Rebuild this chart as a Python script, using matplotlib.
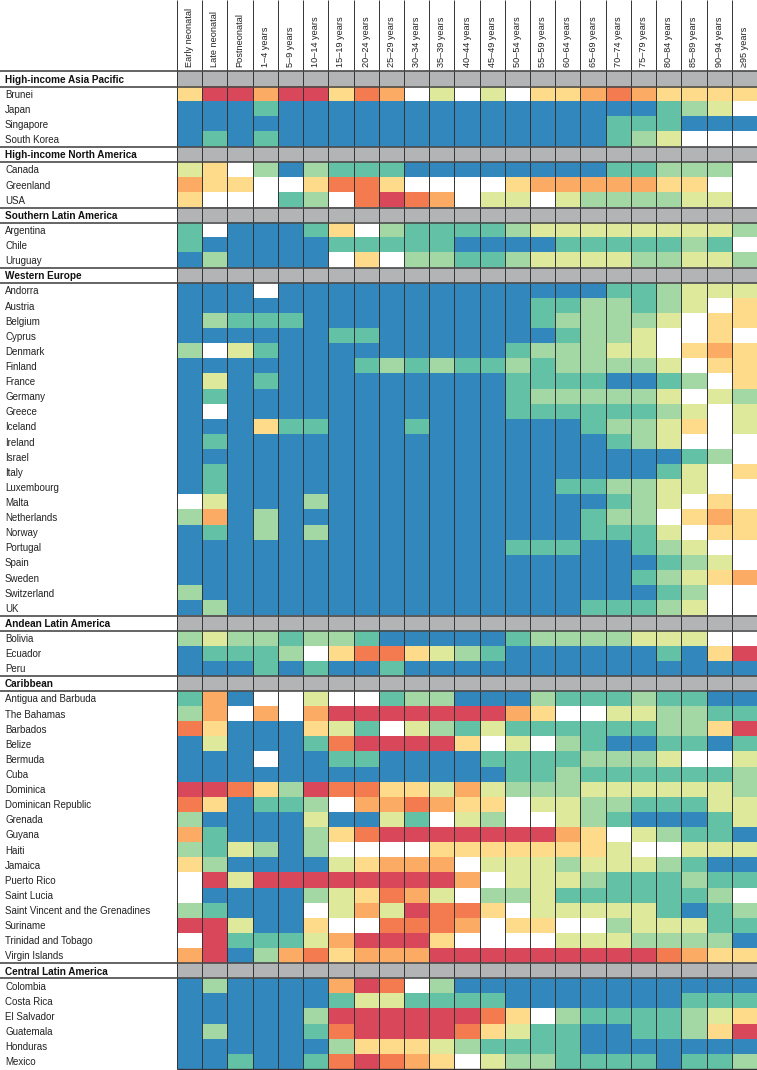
import numpy as np
import matplotlib
matplotlib.use("Agg")
import matplotlib.pyplot as plt
from matplotlib.colors import ListedColormap

plt.rcParams['font.family'] = ['Liberation Sans Narrow', 'Liberation Sans', 'DejaVu Sans']

# age groups (columns)
age_groups = ["Early neonatal", "Late neonatal", "Postneonatal", "1–4 years", "5–9 years",
              "10–14 years", "15–19 years", "20–24 years", "25–29 years", "30–34 years",
              "35–39 years", "40–44 years", "45–49 years", "50–54 years", "55–59 years",
              "60–64 years", "65–69 years", "70–74 years", "75–79 years", "80–84 years",
              "85–89 years", "90–94 years", "≥95 years"]

# colour level of each cell, one digit per age group
# 0 blue, 1 teal, 2 light green, 3 yellow-green, 4 white, 5 light yellow, 6 orange, 7 red-orange, 8 dark red
asia_pacific_names = ["Brunei", "Japan", "Singapore", "South Korea"]
asia_pacific_levels = ["58868857643434556765555",
                       "00010000000000000001234",
                       "00000000000000000111000",
                       "01010000000000000123444"]

north_america_names = ["Canada", "Greenland", "USA"]
north_america_levels = ["35420211100000000112224",
                        "65544577544445666665544",
                        "54441247876433432222334"]

southern_latam_names = ["Argentina", "Chile", "Uruguay"]
southern_latam_levels = ["14000154211112333333332",
                         "10000011111000011111214",
                         "02000045422112333322332"]

western_europe_names = ["Andorra", "Austria", "Belgium", "Cyprus", "Denmark", "Finland", "France",
                        "Germany", "Greece", "Iceland", "Ireland", "Israel", "Italy", "Luxembourg",
                        "Malta", "Netherlands", "Norway", "Portugal", "Spain", "Sweden",
                        "Switzerland", "UK"]
western_europe_levels = ["00040000000000000112333",
                         "00000000000000112212345",
                         "02111000000000122223455",
                         "00000011000000012234454",
                         "24310000000001222334565",
                         "00000001212112122223455",
                         "03010000000001111001245",
                         "01000000000001222223432",
                         "04000000000001111112343",
                         "00051100010000001223543",
                         "01000000000000000123444",
                         "00000000000000000000124",
                         "01000000000000000001345",
                         "01000000000000011223344",
                         "43000200000000000123454",
                         "26020000000000001224565",
                         "01020200000000001113455",
                         "00000000000001110012344",
                         "00000000000000000001234",
                         "00000000000000000012356",
                         "20000000000000000001244",
                         "02000000000000001112344"]

andean_names = ["Bolivia", "Ecuador", "Peru"]
andean_levels = ["23221221000001222233344",
                 "01112457753210000001058",
                 "00010100100000000000000"]

caribbean_names = ["Antigua and Barbuda", "The Bahamas", "Barbados", "Belize", "Bermuda", "Cuba",
                   "Dominica", "Dominican Republic", "Grenada", "Guyana", "Haiti", "Jamaica",
                   "Puerto Rico", "Saint Lucia", "Saint Vincent and the Grenadines", "Suriname",
                   "Trinidad and Tobago", "Virgin Islands"]
caribbean_levels = ["16044344122000211121100",
                    "26464688888886544332211",
                    "75000531432131111112258",
                    "03000178888543421001101",
                    "00040011000011112223443",
                    "00000000000001121111112",
                    "88752877553632223333332",
                    "75011246676554332211133",
                    "20000300314324432100013",
                    "61000257888888865432110",
                    "21320244445555555344333",
                    "52000035666433323332100",
                    "48388888888643332111211",
                    "40000235763422311111124",
                    "21000436387754333331012",
                    "88300544777645544233311",
                    "48111368885444433322220",
                    "68026756668888888887655"]

central_latam_names = ["Colombia", "Costa Rica", "El Salvador", "Guatemala", "Honduras", "Mexico"]
central_latam_levels = ["02000068742000000000000",
                        "00000013311110000000111",
                        "00000288888875421111235",
                        "02000178888753110011258",
                        "00000025553211110000000",
                        "00100178765432211110112"]

regions = [("High-income Asia Pacific", asia_pacific_names, asia_pacific_levels),
           ("High-income North America", north_america_names, north_america_levels),
           ("Southern Latin America", southern_latam_names, southern_latam_levels),
           ("Western Europe", western_europe_names, western_europe_levels),
           ("Andean Latin America", andean_names, andean_levels),
           ("Caribbean", caribbean_names, caribbean_levels),
           ("Central Latin America", central_latam_names, central_latam_levels)]

level_colors = ["#3288bd", "#63c2a6", "#a3d7a4", "#dfe99b", "#ffffff",
                "#fedb8b", "#fcab64", "#f47a4f", "#d8485a"]
header_grey = "#b2b4b5"

# build the grid (header rows get value 9 -> grey)
labels = []
grid = []
for name, names, levels in regions:
    labels.append((name, True))
    grid.append([9] * len(age_groups))
    for n, lv in zip(names, levels):
        labels.append((n, False))
        grid.append([int(ch) for ch in lv])
grid = np.array(grid)
n_rows, n_cols = grid.shape

fig = plt.figure(figsize=(7.57, 10.70), dpi=100)
ax = fig.add_axes([0, 0, 1, 1])

col_w = 580 / 23
row_h = (1069 - 71.5) / n_rows
x_left = -177 / col_w
y_top = -71.5 / row_h

cmap = ListedColormap(level_colors + [header_grey])
ax.imshow(grid, cmap=cmap, vmin=-0.5, vmax=9.5, aspect='auto',
          interpolation='nearest', extent=(0, n_cols, n_rows, 0))

ax.set_xlim(x_left, n_cols)
ax.set_ylim(n_rows + 1 / row_h, y_top)
ax.axis('off')

# column separators run all the way to the top
ax.vlines(np.arange(n_cols + 1), y_top, n_rows, color="#333333", lw=0.7)

# row labels and region header boxes
for i, (txt, is_header) in enumerate(labels):
    if is_header:
        ax.text(x_left + 5 / col_w, i + 0.55, txt, fontsize=7.2, fontweight='bold',
                va='center', ha='left', color="#111111")
        ax.hlines([i, i + 1], x_left, n_cols, color="#4a4a4a", lw=1.2)
    else:
        ax.text(x_left + 5 / col_w, i + 0.55, txt, fontsize=7,
                va='center', ha='left', color="#222222")
ax.hlines(n_rows, 0, n_cols, color="#333333", lw=1.0)

# rotated age group labels
for j, a in enumerate(age_groups):
    ax.text(j + 0.5, -4 / row_h, a, rotation=90, fontsize=6.6,
            va='bottom', ha='center', color="#222222")

fig.savefig("out.png", dpi=100)
